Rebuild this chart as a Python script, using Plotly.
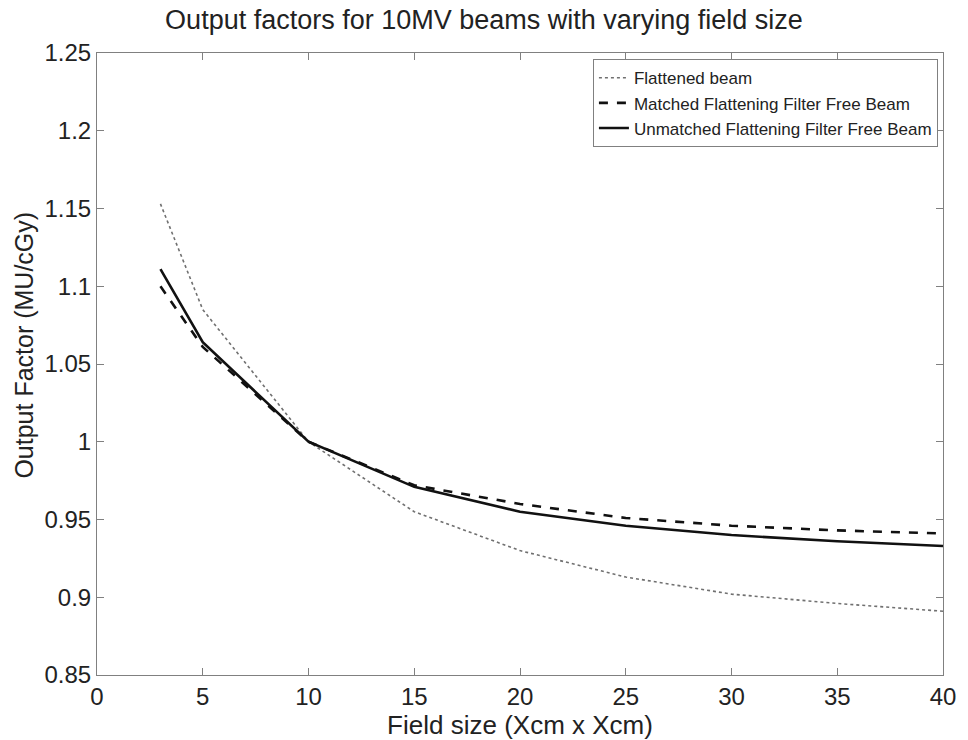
import plotly.graph_objects as go

field_size = [3, 5, 10, 15, 20, 25, 30, 35, 40]
flattened = [1.153, 1.085, 1.000, 0.955, 0.930, 0.913, 0.902, 0.896, 0.891]
matched_fff = [1.100, 1.061, 1.000, 0.972, 0.960, 0.951, 0.946, 0.943, 0.941]
unmatched_fff = [1.111, 1.064, 1.000, 0.971, 0.955, 0.946, 0.940, 0.936, 0.933]

x_ticks = [0, 5, 10, 15, 20, 25, 30, 35, 40]
y_ticks = [0.85, 0.9, 0.95, 1.0, 1.05, 1.1, 1.15, 1.2, 1.25]
y_tick_labels = ["0.85", "0.9", "0.95", "1", "1.05", "1.1", "1.15", "1.2", "1.25"]

FONT = "Liberation Sans, Arial, sans-serif"

fig = go.Figure()
fig.add_trace(go.Scatter(x=field_size, y=flattened, mode="lines", name="Flattened beam",
                         line=dict(color="#707070", width=1.6, dash="dot")))
fig.add_trace(go.Scatter(x=field_size, y=matched_fff, mode="lines",
                         name="Matched Flattening Filter Free Beam",
                         line=dict(color="#111111", width=2.6, dash="dash")))
fig.add_trace(go.Scatter(x=field_size, y=unmatched_fff, mode="lines",
                         name="Unmatched Flattening Filter Free Beam",
                         line=dict(color="#111111", width=2.6)))

axis_common = dict(showline=True, linecolor="#808080", linewidth=1, mirror="ticks",
                   ticks="inside", ticklen=7, tickcolor="#808080", showgrid=False,
                   zeroline=False, tickfont=dict(family=FONT, size=24, color="#222222"))

fig.update_layout(
    width=968, height=740,
    margin=dict(l=97, r=23, t=53, b=64),
    paper_bgcolor="white", plot_bgcolor="white",
    title=dict(text="Output factors for 10MV beams with varying field size",
               x=0.5, xanchor="center", y=0.973, yanchor="middle",
               font=dict(family=FONT, size=27, color="#222222")),
    xaxis=dict(range=[0, 40], tickvals=x_ticks, ticktext=[str(v) for v in x_ticks],
               title=dict(text="Field size (Xcm x Xcm)", standoff=0,
                          font=dict(family=FONT, size=26, color="#222222")),
               **axis_common),
    yaxis=dict(range=[0.85, 1.25], tickvals=y_ticks, ticktext=y_tick_labels,
               **axis_common),
    legend=dict(x=0.994, y=0.99, xanchor="right", yanchor="top",
                bordercolor="#808080", borderwidth=1, bgcolor="white",
                font=dict(family=FONT, size=17, color="#222222"),
                tracegroupgap=0, itemwidth=30),
    showlegend=True,
)

fig.add_annotation(text="Output Factor (MU/cGy)", textangle=-90,
                   xref="paper", yref="paper", x=-0.086, y=0.53,
                   xanchor="center", yanchor="middle", showarrow=False,
                   font=dict(family=FONT, size=25, color="#222222"))

fig.write_html("out.html")
